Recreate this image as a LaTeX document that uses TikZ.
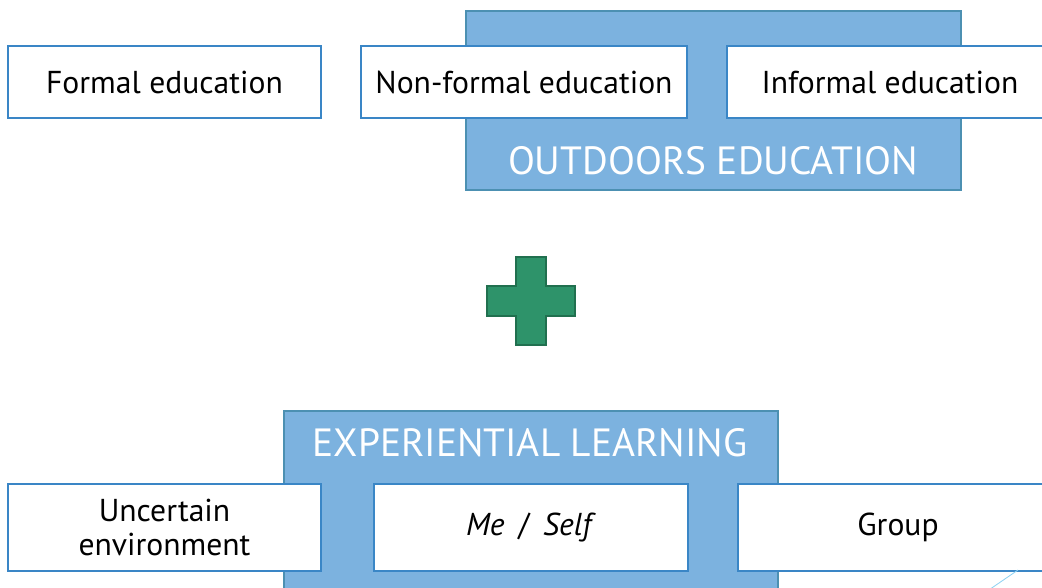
\documentclass[tikz,border=0pt]{standalone}
\usepackage{fontspec}
\setmainfont{PT Sans}
\definecolor{panelfill}{HTML}{7CB2DF}
\definecolor{paneledge}{HTML}{4C90B2}
\definecolor{boxedge}{HTML}{3A86C6}
\definecolor{plusfill}{HTML}{2E936A}
\definecolor{plusedge}{HTML}{21704F}
\definecolor{slideline}{HTML}{8ED2F2}

\begin{document}
\begin{tikzpicture}[
  x = 0.025cm, y = -0.025cm,
  panel/.style = {draw = paneledge, line width = 1.4pt, fill = panelfill,
                  inner sep = 0pt},
  item/.style = {draw = boxedge, line width = 1.4pt, fill = white,
                 minimum height = 1.8cm, align = center, inner sep = 0pt,
                 font = \fontsize{22.5}{24}\selectfont},
  headline/.style = {text = white, inner sep = 0pt,
                     font = \fontsize{28}{32}\selectfont},
  ]
  \clip (0,0) rectangle (1042,587);

  % top row
  \node[panel, minimum width = 12.375cm, minimum height = 4.475cm]
    (outdoors) at (713.5,100.5) {};
  \node[headline] (outdoorsTitle) at (713,161) {OUTDOORS EDUCATION};
  \node[item, minimum width = 7.825cm] (formal)    at (164.5,82) {Formal education};
  \node[item, minimum width = 8.15cm]  (nonformal) at (524,82)   {Non-formal education};
  \node[item, minimum width = 8.15cm]  (informal)  at (890,82)   {Informal education};

  % plus sign
  \begin{scope}[shift = {(531,301)}]
    \draw[draw = plusedge, line width = 1.2pt, fill = plusfill]
      (-15,-44) -- (15,-44) -- (15,-15) -- (44,-15) -- (44,15) -- (15,15)
      -- (15,44) -- (-15,44) -- (-15,15) -- (-44,15) -- (-44,-15)
      -- (-15,-15) -- cycle;
  \end{scope}

  % bottom row
  \node[panel, minimum width = 12.35cm, minimum height = 4.725cm]
    (experiential) at (531,505.5) {};
  \node[headline] (experientialTitle) at (530,443) {EXPERIENTIAL LEARNING};
  \node[item, minimum width = 7.825cm, minimum height = 2.175cm]
    (uncertain) at (164.5,527.5) {Uncertain\\environment};
  \node[item, minimum width = 7.85cm, minimum height = 2.175cm]
    (self) at (531,527.5) {\textit{Me} \,/\, \textit{Self}};
  \node[item, minimum width = 8cm, minimum height = 2.175cm]
    (group) at (898,527.5) {Group};

  \draw[slideline, line width = 0.6pt] (1018,570) -- (980,596);
\end{tikzpicture}
\end{document}
